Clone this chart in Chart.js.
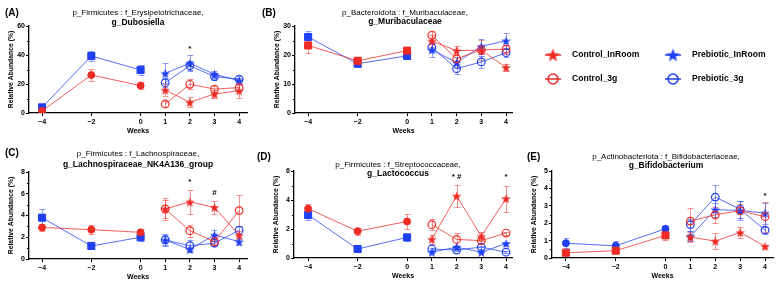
<!DOCTYPE html>
<html>
<head>
<meta charset="utf-8">
<script src="https://cdn.jsdelivr.net/npm/chart.js@4"></script>
<style>
  html, body { margin: 0; padding: 0; background: #fff; }
  #wrap { position: relative; width: 780px; height: 285px; overflow: hidden; }
  #wrap canvas { position: absolute; left: 0; top: 0; }
</style>
</head>
<body>
<div id="wrap">
  <canvas id="cA" width="780" height="285"></canvas>
  <canvas id="cB" width="780" height="285"></canvas>
  <canvas id="cC" width="780" height="285"></canvas>
  <canvas id="cD" width="780" height="285"></canvas>
  <canvas id="cE" width="780" height="285"></canvas>
</div>
<script>
// --- data ---
const weeksBase = [-4, -2, 0];
const weeksPost = [1, 2, 3, 4];
const xTickValues = [-4, -2, 0, 1, 2, 3, 4];
const legendLabels = ['Control_InRoom', 'Prebiotic_InRoom', 'Control_3g', 'Prebiotic_3g'];

// (A) Dubosiella
const aYTicks = [0, 20, 40, 60];
const aCtrlBase = [1.4, 26.2, 18.9], aCtrlBaseErr = [0.5, 4.0, 2.5];
const aPreBase = [3.9, 39.3, 29.7], aPreBaseErr = [1.0, 3.5, 3.5];
const aCtrlIn = [15.9, 7.4, 13.1, 15.4], aCtrlInErr = [4.0, 3.5, 3.0, 5.0];
const aCtrl3g = [6.2, 19.8, 16.5, 17.5], aCtrl3gErr = [2.0, 3.5, 2.0, 2.0];
const aPreIn = [27.4, 34.3, 26.7, 22.3], aPreInErr = [7.0, 5.5, 2.5, 2.0];
const aPre3g = [20.9, 32.6, 25.1, 23.4], aPre3gErr = [3.0, 3.0, 2.0, 2.0];
const aSigX = [2], aSigY = [44.6], aSigText = ['*'];

// (B) Muribaculaceae
const bYTicks = [0, 10, 20, 30];
const bCtrlBase = [23.3, 18.0, 21.5], bCtrlBaseErr = [2.5, 1.3, 1.2];
const bPreBase = [26.2, 17.0, 19.7], bPreBaseErr = [2.0, 1.0, 1.2];
const bCtrlIn = [24.8, 21.5, 21.7, 15.7], bCtrlInErr = [2.0, 1.5, 1.5, 1.2];
const bCtrl3g = [26.8, 18.7, 21.8, 22.0], bCtrl3gErr = [1.5, 3.0, 3.5, 1.5];
const bPreIn = [21.8, 17.4, 23.0, 24.9], bPreInErr = [2.5, 2.0, 2.5, 2.7];
const bPre3g = [22.6, 15.3, 17.6, 20.8], bPre3gErr = [1.5, 1.7, 2.0, 1.5];

// (C) Lachnospiraceae_NK4A136_group
const cYTicks = [0, 2, 4, 6, 8];
const cCtrlBase = [2.9, 2.7, 2.45], cCtrlBaseErr = [0.35, 0.4, 0.3];
const cPreBase = [3.8, 1.2, 2.0], cPreBaseErr = [0.8, 0.25, 0.35];
const cCtrlIn = [4.6, 5.25, 4.75, 2.2], cCtrlInErr = [1.0, 1.1, 0.6, 0.4];
const cCtrl3g = [4.6, 2.6, 1.6, 4.45], cCtrl3gErr = [0.8, 0.55, 0.35, 1.4];
const cPreIn = [1.75, 0.88, 2.2, 1.6], cPreInErr = [0.55, 0.2, 0.5, 0.3];
const cPre3g = [1.75, 1.22, 1.45, 2.65], cPre3gErr = [0.5, 0.5, 0.25, 0.4];
const cSigX = [2, 3], cSigY = [7.1, 6.1], cSigText = ['*', '#'];

// (D) Lactococcus
const dYTicks = [0, 2, 4, 6];
const dCtrlBase = [3.4, 1.85, 2.52], dCtrlBaseErr = [0.35, 0.25, 0.5];
const dPreBase = [2.97, 0.62, 1.42], dPreBaseErr = [0.35, 0.1, 0.25];
const dCtrlIn = [1.3, 4.28, 1.5, 4.1], dCtrlInErr = [0.3, 0.75, 0.3, 0.9];
const dCtrl3g = [2.3, 1.28, 1.2, 1.72], dCtrl3gErr = [0.4, 0.45, 0.15, 0.1];
const dPreIn = [0.4, 0.75, 0.4, 1.0], dPreInErr = [0.05, 0.1, 0.05, 0.1];
const dPre3g = [0.62, 0.55, 0.75, 0.4], dPre3gErr = [0.1, 0.1, 0.1, 0.05];
const dSigX = [2, 4], dSigY = [5.6, 5.6], dSigText = ['* #', '*'];

// (E) Bifidobacterium
const eYTicks = [0, 1, 2, 3, 4, 5];
const eCtrlBase = [0.3, 0.42, 1.3], eCtrlBaseErr = [0.05, 0.1, 0.25];
const ePreBase = [0.85, 0.7, 1.68], ePreBaseErr = [0.3, 0.25, 0.12];
const eCtrlIn = [1.2, 0.97, 1.47, 0.67], eCtrlInErr = [0.3, 0.45, 0.3, 0.08];
const eCtrl3g = [2.12, 2.48, 2.72, 2.37], eCtrl3gErr = [0.75, 0.45, 0.4, 0.85];
const ePreIn = [1.25, 2.78, 2.73, 2.58], ePreInErr = [0.3, 0.4, 0.55, 0.6];
const ePre3g = [1.92, 3.5, 2.8, 1.6], ePre3gErr = [0.35, 0.7, 0.5, 0.2];
const eSigX = [4], eSigY = [3.6], eSigText = ['*'];

// --- styling ---
const FONT = "'Liberation Sans', Arial, Helvetica, sans-serif";
Chart.defaults.font.family = FONT;
const RED = '#ee2a24', BLUE = '#1f3ff0';
const RED_LINE = 'rgba(238,42,36,0.75)', BLUE_LINE = 'rgba(31,63,240,0.75)';
const RED_ERR = 'rgba(238,42,36,0.5)', BLUE_ERR = 'rgba(31,63,240,0.5)';
const Y_W = 22, X_H = 22;

function starCanvas(color, r) {
  const s = Math.ceil(r * 2 + 1);
  const c = document.createElement('canvas');
  c.width = s; c.height = s;
  const g = c.getContext('2d');
  g.fillStyle = color;
  g.beginPath();
  for (let i = 0; i < 10; i++) {
    const a = -Math.PI / 2 + i * Math.PI / 5;
    const rad = i % 2 ? r * 0.42 : r;
    const px = s / 2 + Math.cos(a) * rad, py = s / 2 + 0.6 + Math.sin(a) * rad;
    if (i === 0) g.moveTo(px, py); else g.lineTo(px, py);
  }
  g.closePath();
  g.fill();
  return c;
}
const RED_STAR = starCanvas(RED, 5);
const BLUE_STAR = starCanvas(BLUE, 5);

function series(xs, ys, errs, kind, red) {
  const col = red ? RED : BLUE;
  const ds = {
    data: xs.map((x, i) => ({ x: x, y: ys[i] })),
    errors: errs,
    errColor: red ? RED_ERR : BLUE_ERR,
    borderColor: red ? RED_LINE : BLUE_LINE,
    borderWidth: 1,
    tension: 0,
    fill: false,
    pointBorderColor: col,
    pointBackgroundColor: col,
    pointBorderWidth: 1
  };
  if (kind === 'star') { ds.pointStyle = red ? RED_STAR : BLUE_STAR; ds.pointRadius = 5; }
  else if (kind === 'rect') { ds.pointStyle = 'rect'; ds.pointRadius = 5; }
  else if (kind === 'dot') { ds.pointStyle = 'circle'; ds.pointRadius = 3.5; }
  else { ds.pointStyle = 'circle'; ds.pointRadius = 3.8; ds.pointBackgroundColor = 'rgba(255,255,255,0)'; ds.pointBorderWidth = 1.2; }
  return ds;
}

const errorBars = {
  id: 'errorBars',
  beforeDatasetsDraw(chart) {
    const ctx = chart.ctx, xs = chart.scales.x, ys = chart.scales.y;
    chart.data.datasets.forEach(ds => {
      if (!ds.errors) return;
      ctx.save();
      ctx.strokeStyle = ds.errColor;
      ctx.lineWidth = 1;
      ds.data.forEach((p, j) => {
        const e = ds.errors[j];
        const px = Math.round(xs.getPixelForValue(p.x)) + 0.5;
        const top = Math.round(ys.getPixelForValue(p.y + e)) + 0.5;
        const bot = Math.round(ys.getPixelForValue(Math.max(0, p.y - e))) + 0.5;
        ctx.beginPath();
        ctx.moveTo(px, top); ctx.lineTo(px, bot);
        ctx.moveTo(px - 3, top); ctx.lineTo(px + 3, top);
        ctx.moveTo(px - 3, bot); ctx.lineTo(px + 3, bot);
        ctx.stroke();
      });
      ctx.restore();
    });
  }
};

function textPlugin(p) {
  return {
    id: 'panelText',
    afterDraw(chart) {
      const ctx = chart.ctx, xs = chart.scales.x, ys = chart.scales.y;
      ctx.save();
      ctx.fillStyle = '#000';
      ctx.textBaseline = 'middle';
      ctx.textAlign = 'left';
      ctx.font = 'bold 10px ' + FONT;
      ctx.fillText(p.letter, p.letterX, p.letterY);
      ctx.textAlign = 'center';
      ctx.font = '8px ' + FONT;
      ctx.fillText(p.title1, p.titleX, p.title1Y);
      ctx.font = 'bold 8.5px ' + FONT;
      ctx.fillText(p.title2, p.titleX, p.title2Y);
      // significance marks
      ctx.font = 'bold 8px ' + FONT;
      (p.sigX || []).forEach((sx, i) => {
        ctx.fillText(p.sigText[i], xs.getPixelForValue(sx), ys.getPixelForValue(p.sigY[i]));
      });
      // minor y ticks
      ctx.strokeStyle = '#000';
      ctx.lineWidth = 1;
      ctx.beginPath();
      for (let v = p.yMinor; v < ys.max; v += p.yMinor) {
        if (p.yTicks.some(t => Math.abs(t - v) < 1e-6)) continue;
        const py = Math.round(ys.getPixelForValue(v)) + 0.5;
        ctx.moveTo(p.L - 2, py); ctx.lineTo(p.L, py);
      }
      ctx.stroke();
      ctx.restore();
    }
  };
}

const legendPlugin = {
  id: 'pageLegend',
  afterDraw(chart) {
    const ctx = chart.ctx;
    const items = [
      { x: 553, y: 55, red: true, star: true },
      { x: 673, y: 55, red: false, star: true },
      { x: 553, y: 79, red: true, star: false },
      { x: 673, y: 79, red: false, star: false }
    ];
    ctx.save();
    items.forEach((it, i) => {
      const col = it.red ? RED : BLUE;
      ctx.strokeStyle = col;
      ctx.lineWidth = 1.5;
      ctx.beginPath();
      ctx.moveTo(it.x - 8, it.y); ctx.lineTo(it.x + 8, it.y);
      ctx.stroke();
      if (it.star) {
        const img = starCanvas(col, 7);
        ctx.drawImage(img, it.x - img.width / 2, it.y - img.height / 2);
      } else {
        ctx.beginPath();
        ctx.arc(it.x, it.y, 5, 0, Math.PI * 2);
        ctx.stroke();
      }
      ctx.fillStyle = '#000';
      ctx.font = 'bold 8.6px ' + FONT;
      ctx.textAlign = 'left';
      ctx.textBaseline = 'middle';
      ctx.fillText(legendLabels[i], it.x + 19, it.y);
    });
    ctx.restore();
  }
};

function panel(id, p, extraPlugins) {
  const datasets = [
    series(weeksPost, p.ctrlIn, p.ctrlInErr, 'star', true),
    series(weeksPost, p.ctrl3g, p.ctrl3gErr, 'open', true),
    series(weeksPost, p.preIn, p.preInErr, 'star', false),
    series(weeksPost, p.pre3g, p.pre3gErr, 'open', false),
    series(weeksBase, p.ctrlBase, p.ctrlBaseErr, p.ctrlBaseStyle, true),
    series(weeksBase, p.preBase, p.preBaseErr, p.preBaseStyle, false)
  ];
  const axisGrid = { display: true, drawOnChartArea: false, drawTicks: true, tickLength: 3, color: '#000', lineWidth: 1 };
  const axisBorder = { display: true, color: '#000', width: 1.3 };
  new Chart(document.getElementById(id), {
    type: 'line',
    data: { datasets: datasets },
    options: {
      responsive: false,
      animation: false,
      events: [],
      layout: { padding: { left: p.L - Y_W, top: p.T, right: 780 - p.R, bottom: 285 - p.B - X_H } },
      plugins: { legend: { display: false }, tooltip: { enabled: false } },
      scales: {
        x: {
          type: 'linear', min: p.xMin, max: p.xMax,
          afterBuildTicks: s => { s.ticks = xTickValues.map(v => ({ value: v })); },
          afterFit: s => { s.height = X_H; },
          grid: axisGrid, border: axisBorder,
          ticks: { color: '#000', padding: 2, autoSkip: false, maxRotation: 0,
                   font: { size: 7, weight: 'bold' },
                   callback: v => v < 0 ? '\u2212' + Math.abs(v) : String(v) },
          title: { display: true, text: 'Weeks', color: '#000', padding: 0, font: { size: 7, weight: 'bold' } }
        },
        y: {
          type: 'linear', min: 0, max: p.yTicks[p.yTicks.length - 1],
          afterBuildTicks: s => { s.ticks = p.yTicks.map(v => ({ value: v })); },
          afterFit: s => { s.width = Y_W; },
          grid: axisGrid, border: axisBorder,
          ticks: { color: '#000', padding: 1, autoSkip: false, font: { size: 7, weight: 'bold' } },
          title: { display: true, text: 'Relative Abundance (%)', color: '#000', padding: 0, font: { size: 6.8, weight: 'bold' } }
        }
      }
    },
    plugins: [errorBars, textPlugin(p)].concat(extraPlugins || [])
  });
}

panel('cA', {
  L: 29, T: 26, R: 247, B: 113, xMin: -4.53, xMax: 4.32, yTicks: aYTicks, yMinor: 10,
  letter: '(A)', letterX: 5, letterY: 13, titleX: 138, title1Y: 13, title2Y: 22.5,
  title1: 'p_Firmicutes : f_Erysipelotrichaceae,', title2: 'g_Dubosiella',
  ctrlBase: aCtrlBase, ctrlBaseErr: aCtrlBaseErr, preBase: aPreBase, preBaseErr: aPreBaseErr,
  ctrlBaseStyle: 'dot', preBaseStyle: 'rect',
  ctrlIn: aCtrlIn, ctrlInErr: aCtrlInErr, ctrl3g: aCtrl3g, ctrl3gErr: aCtrl3gErr,
  preIn: aPreIn, preInErr: aPreInErr, pre3g: aPre3g, pre3gErr: aPre3gErr,
  sigX: aSigX, sigY: aSigY, sigText: aSigText
});

panel('cB', {
  L: 295, T: 26, R: 512, B: 113, xMin: -4.53, xMax: 4.24, yTicks: bYTicks, yMinor: 5,
  letter: '(B)', letterX: 262, letterY: 13, titleX: 405, title1Y: 13, title2Y: 21.5,
  title1: 'p_Bacteroidota : f_Muribaculaceae,', title2: 'g_Muribaculaceae',
  ctrlBase: bCtrlBase, ctrlBaseErr: bCtrlBaseErr, preBase: bPreBase, preBaseErr: bPreBaseErr,
  ctrlBaseStyle: 'rect', preBaseStyle: 'rect',
  ctrlIn: bCtrlIn, ctrlInErr: bCtrlInErr, ctrl3g: bCtrl3g, ctrl3gErr: bCtrl3gErr,
  preIn: bPreIn, preInErr: bPreInErr, pre3g: bPre3g, pre3gErr: bPre3gErr
});

panel('cC', {
  L: 29, T: 172, R: 247, B: 259, xMin: -4.53, xMax: 4.32, yTicks: cYTicks, yMinor: 1,
  letter: '(C)', letterX: 5, letterY: 153, titleX: 138, title1Y: 154, title2Y: 165,
  title1: 'p_Firmicutes : f_Lachnospiraceae,', title2: 'g_Lachnospiraceae_NK4A136_group',
  ctrlBase: cCtrlBase, ctrlBaseErr: cCtrlBaseErr, preBase: cPreBase, preBaseErr: cPreBaseErr,
  ctrlBaseStyle: 'dot', preBaseStyle: 'rect',
  ctrlIn: cCtrlIn, ctrlInErr: cCtrlInErr, ctrl3g: cCtrl3g, ctrl3gErr: cCtrl3gErr,
  preIn: cPreIn, preInErr: cPreInErr, pre3g: cPre3g, pre3gErr: cPre3gErr,
  sigX: cSigX, sigY: cSigY, sigText: cSigText
});

panel('cD', {
  L: 294, T: 171, R: 512, B: 258, xMin: -4.57, xMax: 4.24, yTicks: dYTicks, yMinor: 1,
  letter: '(D)', letterX: 257, letterY: 157, titleX: 398, title1Y: 165, title2Y: 174,
  title1: 'p_Firmicutes : f_Streptococcaceae,', title2: 'g_Lactococcus',
  ctrlBase: dCtrlBase, ctrlBaseErr: dCtrlBaseErr, preBase: dPreBase, preBaseErr: dPreBaseErr,
  ctrlBaseStyle: 'dot', preBaseStyle: 'rect',
  ctrlIn: dCtrlIn, ctrlInErr: dCtrlInErr, ctrl3g: dCtrl3g, ctrl3gErr: dCtrl3gErr,
  preIn: dPreIn, preInErr: dPreInErr, pre3g: dPre3g, pre3gErr: dPre3gErr,
  sigX: dSigX, sigY: dSigY, sigText: dSigText
});

panel('cE', {
  L: 552, T: 171, R: 773, B: 258, xMin: -4.56, xMax: 4.32, yTicks: eYTicks, yMinor: 0.5,
  letter: '(E)', letterX: 527, letterY: 157, titleX: 666, title1Y: 157, title2Y: 165.5,
  title1: 'p_Actinobacteriota : f_Bifidobacteriaceae,', title2: 'g_Bifidobacterium',
  ctrlBase: eCtrlBase, ctrlBaseErr: eCtrlBaseErr, preBase: ePreBase, preBaseErr: ePreBaseErr,
  ctrlBaseStyle: 'rect', preBaseStyle: 'dot',
  ctrlIn: eCtrlIn, ctrlInErr: eCtrlInErr, ctrl3g: eCtrl3g, ctrl3gErr: eCtrl3gErr,
  preIn: ePreIn, preInErr: ePreInErr, pre3g: ePre3g, pre3gErr: ePre3gErr,
  sigX: eSigX, sigY: eSigY, sigText: eSigText
}, [legendPlugin]);
</script>
</body>
</html>
